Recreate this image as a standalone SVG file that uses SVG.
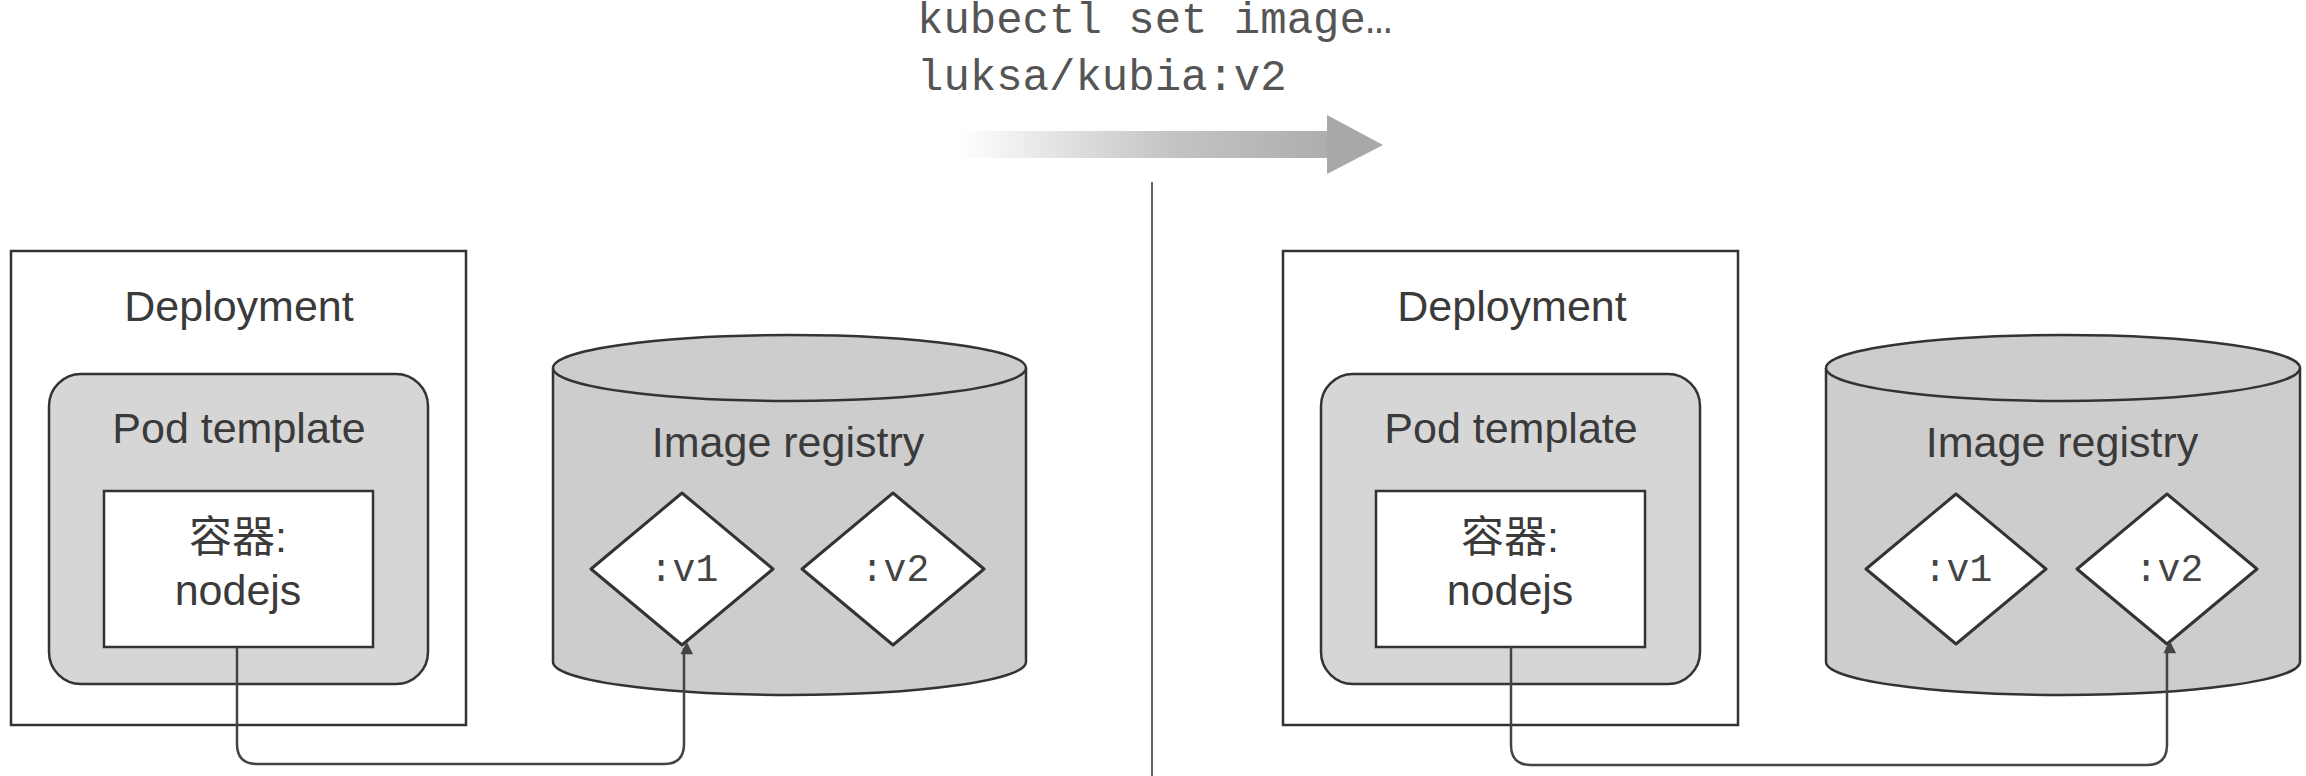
<svg xmlns="http://www.w3.org/2000/svg" width="2306" height="776" viewBox="0 0 2306 776">
<style>
.box{fill:#ffffff;stroke:#333333;stroke-width:2.5}
.pod{fill:#d6d6d6;stroke:#333333;stroke-width:2.5}
.ctr{fill:#ffffff;stroke:#333333;stroke-width:2.5}
.cyl{fill:#cdcdcd;stroke:#333333;stroke-width:2.5}
.dia{fill:#ffffff;stroke:#333333;stroke-width:3;stroke-linejoin:round}
.sans{font-family:"Liberation Sans","Noto Sans CJK SC",Arial,sans-serif;font-size:43px;fill:#3a3a3a;text-anchor:middle}
.mono{font-family:"Liberation Mono","Courier New",monospace;fill:#555555}
.tag{font-family:"Liberation Mono","Courier New",monospace;font-size:38px;fill:#444444;text-anchor:middle}
.conn{fill:none;stroke:#444444;stroke-width:2.5}
</style>
<defs>
<linearGradient id="arrowGrad" x1="957" y1="0" x2="1383" y2="0" gradientUnits="userSpaceOnUse">
<stop offset="0" stop-color="#ffffff"/>
<stop offset="0.5" stop-color="#c4c4c4"/>
<stop offset="1" stop-color="#a6a6a6"/>
</linearGradient>
<marker id="arrowhead" viewBox="0 0 10 10" refX="9" refY="5" markerWidth="7" markerHeight="7" markerUnits="userSpaceOnUse" orient="auto" overflow="visible">
<path d="M0,0 L10,5 L0,10 Z" fill="#444444" transform="scale(1.8)" />
</marker>
</defs>

<g id="command">
<text class="mono" x="917" y="33" font-size="44">kubectl set image…</text>
<text class="mono" x="917" y="90" font-size="44">luksa/kubia:v2</text>
<rect x="957" y="131" width="372" height="27" fill="url(#arrowGrad)"/>
<polygon points="1327,115 1383,145 1327,174" fill="#a8a8a8"/>
</g>

<g id="separator">
<line x1="1152" y1="182" x2="1152" y2="776" stroke="#666666" stroke-width="2"/>
</g>

<g id="deployment-left">
<rect class="box" x="11" y="251" width="455" height="474"/>
<text class="sans" x="239" y="321">Deployment</text>
</g>
<g id="podtemplate-left">
<rect class="pod" x="49" y="374" width="379" height="310" rx="32" ry="32"/>
<text class="sans" x="239" y="443">Pod template</text>
</g>
<g id="container-left">
<rect class="ctr" x="104" y="491" width="269" height="156"/>
<text class="sans" x="238" y="552">容器:</text>
<text class="sans" x="238" y="605">nodejs</text>
</g>
<g id="registry-left">
<path class="cyl" d="M553,368 V662 A236.5,33 0 0 0 1026,662 V368"/>
<ellipse class="cyl" cx="789.5" cy="368" rx="236.5" ry="33"/>
<text class="sans" x="788" y="457">Image registry</text>
</g>
<g id="image-v1-left">
<polygon class="dia" points="682,493 773,569 682,645 591,569"/>
<text class="tag" x="684" y="581">:v1</text>
</g>
<g id="image-v2-left">
<polygon class="dia" points="893,493 984,569 893,645 802,569"/>
<text class="tag" x="895" y="581">:v2</text>
</g>

<g id="deployment-right">
<rect class="box" x="1283" y="251" width="455" height="474"/>
<text class="sans" x="1512" y="321">Deployment</text>
</g>
<g id="podtemplate-right">
<rect class="pod" x="1321" y="374" width="379" height="310" rx="32" ry="32"/>
<text class="sans" x="1511" y="443">Pod template</text>
</g>
<g id="container-right">
<rect class="ctr" x="1376" y="491" width="269" height="156"/>
<text class="sans" x="1510" y="552">容器:</text>
<text class="sans" x="1510" y="605">nodejs</text>
</g>
<g id="registry-right">
<path class="cyl" d="M1826,368 V662 A237,33 0 0 0 2300,662 V368"/>
<ellipse class="cyl" cx="2063" cy="368" rx="237" ry="33"/>
<text class="sans" x="2062" y="457">Image registry</text>
</g>
<g id="image-v1-right">
<polygon class="dia" points="1956,494 2046,569 1956,644 1866,569"/>
<text class="tag" x="1958" y="581">:v1</text>
</g>
<g id="image-v2-right">
<polygon class="dia" points="2167,494 2257,569 2167,644 2077,569"/>
<text class="tag" x="2169" y="581">:v2</text>
</g>

<g id="connectors">
<path class="conn" d="M237,647 V744 Q237,764 257,764 H664 Q684,764 684,744 V648" marker-end="url(#arrowhead)"/>
<path class="conn" d="M1511,647 V745 Q1511,765 1531,765 H2147 Q2167,765 2167,745 V647" marker-end="url(#arrowhead)"/>
</g>
</svg>
